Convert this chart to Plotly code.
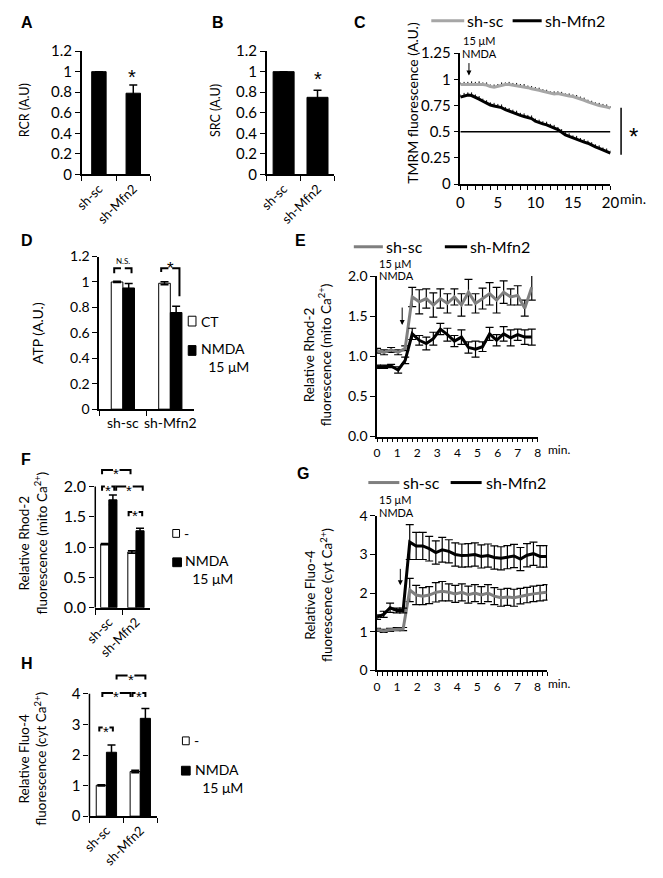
import plotly.graph_objects as go

# ================= DATA =================
groups = ["sh-sc", "sh-Mfn2"]

rcr_vals = [1.0, 0.79]
rcr_err = [0.0, 0.08]
src_vals = [1.0, 0.75]
src_err = [0.0, 0.07]

atp_ct = [1.0, 0.99]
atp_ct_err = [0.005, 0.012]
atp_nmda = [0.953, 0.76]
atp_nmda_err = [0.035, 0.05]

rhod_ctl = [1.05, 0.92]
rhod_ctl_err = [0.01, 0.02]
rhod_nmda = [1.78, 1.27]
rhod_nmda_err = [0.08, 0.04]
rhod_ticks = [0.0, 0.5, 1.0, 1.5, 2.0]

fluo_ctl = [1.01, 1.46]
fluo_ctl_err = [0.02, 0.04]
fluo_nmda = [2.09, 3.20]
fluo_nmda_err = [0.24, 0.32]
fluo_ticks = [0, 1, 2, 3, 4]

tmrm_time = [0, 0.5, 1, 1.5, 2, 2.5, 3, 3.5, 4, 4.5,
             5, 5.5, 6, 6.5, 7, 7.5, 8, 8.5, 9, 9.5,
             10, 10.5, 11, 11.5, 12, 12.5, 13, 13.5, 14, 14.5,
             15, 15.5, 16, 16.5, 17, 17.5, 18, 18.5, 19, 19.5, 20]
tmrm_sc = [0.95, 0.95, 0.955, 0.955, 0.955, 0.955, 0.95, 0.945, 0.93, 0.925,
           0.935, 0.945, 0.95, 0.95, 0.945, 0.94, 0.935, 0.93, 0.92, 0.91,
           0.905, 0.895, 0.885, 0.875, 0.865, 0.86, 0.865, 0.855, 0.845, 0.84,
           0.835, 0.825, 0.815, 0.80, 0.785, 0.77, 0.76, 0.75, 0.745, 0.735,
           0.725]
tmrm_sc_err = [0.02, 0.025, 0.02, 0.025, 0.02, 0.025, 0.02, 0.025, 0.02, 0.025,
               0.02, 0.025, 0.02, 0.025, 0.02, 0.025, 0.02, 0.025, 0.02, 0.025,
               0.02, 0.025, 0.02, 0.025, 0.02, 0.025, 0.02, 0.025, 0.02, 0.025,
               0.02, 0.025, 0.02, 0.025, 0.02, 0.025, 0.02, 0.025, 0.02, 0.025,
               0.02]
tmrm_mfn2 = [0.83, 0.84, 0.85, 0.845, 0.83, 0.81, 0.79, 0.77, 0.755, 0.745,
             0.74, 0.73, 0.71, 0.695, 0.685, 0.67, 0.655, 0.645, 0.635, 0.625,
             0.60, 0.585, 0.575, 0.565, 0.55, 0.535, 0.52, 0.495, 0.47, 0.455,
             0.44, 0.43, 0.415, 0.40, 0.39, 0.37, 0.355, 0.34, 0.325, 0.31,
             0.295]
tmrm_mfn2_err = [0.025, 0.03, 0.025, 0.03, 0.025, 0.03, 0.025, 0.03, 0.025, 0.03,
                 0.025, 0.03, 0.025, 0.03, 0.025, 0.03, 0.025, 0.03, 0.025, 0.03,
                 0.025, 0.03, 0.025, 0.03, 0.025, 0.03, 0.025, 0.03, 0.025, 0.03,
                 0.025, 0.03, 0.025, 0.03, 0.025, 0.03, 0.025, 0.03, 0.025, 0.03,
                 0.025]

rhod_time = [0.0, 0.35, 0.7, 1.05, 1.4, 1.75, 2.1, 2.45, 2.8, 3.15,
             3.5, 3.85, 4.2, 4.55, 4.9, 5.25, 5.6, 5.95, 6.3, 6.65,
             7.0, 7.35, 7.7]
rhod_sc = [1.07, 1.05, 1.08, 1.05, 1.10, 1.74, 1.68, 1.72, 1.64, 1.72,
           1.66, 1.74, 1.64, 1.80, 1.66, 1.72, 1.78, 1.70, 1.80, 1.74,
           1.76, 1.60, 1.86]
rhod_sc_err = [0.03, 0.03, 0.03, 0.03, 0.03, 0.12, 0.15, 0.12, 0.15, 0.12,
               0.12, 0.10, 0.14, 0.16, 0.12, 0.13, 0.14, 0.16, 0.14, 0.10,
               0.12, 0.10, 0.16]
rhod_mfn2 = [0.87, 0.87, 0.88, 0.83, 0.95, 1.28, 1.20, 1.16, 1.22, 1.34,
             1.27, 1.19, 1.24, 1.11, 1.09, 1.12, 1.28, 1.20, 1.28, 1.23,
             1.27, 1.24, 1.24]
rhod_mfn2_err = [0.02, 0.02, 0.02, 0.04, 0.04, 0.07, 0.06, 0.08, 0.08, 0.07,
                 0.08, 0.07, 0.09, 0.07, 0.10, 0.06, 0.08, 0.07, 0.09, 0.10,
                 0.07, 0.09, 0.10]

fluo_time = [0.0, 0.33, 0.65, 0.98, 1.3, 1.63, 1.95, 2.28, 2.6, 2.93,
             3.25, 3.58, 3.9, 4.23, 4.55, 4.88, 5.2, 5.53, 5.85, 6.18,
             6.5, 6.83, 7.15, 7.48, 7.8, 8.13, 8.45]
fluo_mfn2 = [1.38, 1.45, 1.62, 1.55, 1.55, 3.32, 3.22, 3.22, 3.15, 3.05,
             3.12, 3.08, 3.00, 2.97, 2.98, 3.00, 2.95, 2.97, 2.92, 2.90,
             2.93, 2.96, 2.88, 2.98, 3.02, 2.95, 2.95]
fluo_mfn2_err = [0.06, 0.08, 0.12, 0.06, 0.06, 0.45, 0.35, 0.35, 0.32, 0.30,
                 0.32, 0.30, 0.30, 0.30, 0.30, 0.30, 0.30, 0.30, 0.30, 0.30,
                 0.30, 0.30, 0.30, 0.30, 0.30, 0.28, 0.28]
fluo_sc = [1.05, 1.02, 1.05, 1.07, 1.07, 2.08, 1.95, 1.92, 1.95, 2.02,
           2.05, 2.02, 1.98, 2.02, 1.96, 2.00, 1.95, 2.00, 1.92, 1.88,
           1.90, 1.88, 1.92, 1.95, 1.98, 2.00, 2.02]
fluo_sc_err = [0.04, 0.04, 0.04, 0.04, 0.04, 0.30, 0.25, 0.22, 0.22, 0.25,
               0.25, 0.22, 0.22, 0.22, 0.22, 0.22, 0.22, 0.22, 0.22, 0.22,
               0.22, 0.22, 0.20, 0.20, 0.20, 0.20, 0.20]

# ================= STYLE / LAYOUT HELPERS =================
W, H = 663, 878
FONT = "Lato"
STAR_FONT = "Liberation Sans"
GREY_C = "#a6a6a6"
GREY = "#7f7f7f"


def px(x):
    return x / W


def py(y):
    return 1 - y / H


fig = go.Figure()


def ebar(arr, width=4, thick=1.5, color="black", **kw):
    return dict(type="data", array=arr, color=color, thickness=thick, width=width, **kw)


def bar(xa, ya, vals, err, fill, width, offset=None):
    fig.add_trace(go.Bar(
        x=groups, y=vals, xaxis=xa, yaxis=ya, width=width, offset=offset,
        marker=dict(color=fill, line=dict(color="black", width=1)),
        error_y=ebar(err)))


def line(xa, ya, t, v, e, color, width=3, cap=4, thick=1.2, minus=True):
    eb = ebar(e, width=cap, thick=thick)
    if not minus:
        eb["symmetric"] = False
        eb["arrayminus"] = [0] * len(e)
    fig.add_trace(go.Scatter(x=t, y=v, xaxis=xa, yaxis=ya, mode="lines",
                             line=dict(color=color, width=width),
                             error_y=eb, cliponaxis=False))


# A, B
bar("x", "y", rcr_vals, rcr_err, "black", 0.42)
bar("x2", "y2", src_vals, src_err, "black", 0.62)
# C
line("x3", "y3", tmrm_time, tmrm_sc, tmrm_sc_err, GREY_C, cap=0, thick=1, minus=False)
line("x3", "y3", tmrm_time, tmrm_mfn2, tmrm_mfn2_err, "black", cap=0, thick=1, minus=False)
# D
WD = 0.245
bar("x4", "y4", atp_ct, atp_ct_err, "white", WD, -WD)
bar("x4", "y4", atp_nmda, atp_nmda_err, "black", WD, 0)
# E
line("x5", "y5", rhod_time, rhod_sc, rhod_sc_err, GREY)
line("x5", "y5", rhod_time, rhod_mfn2, rhod_mfn2_err, "black")
# F
WF = 0.3
bar("x6", "y6", rhod_ctl, rhod_ctl_err, "white", WF, -WF)
bar("x6", "y6", rhod_nmda, rhod_nmda_err, "black", WF, 0)
# G
line("x7", "y7", fluo_time, fluo_sc, fluo_sc_err, GREY)
line("x7", "y7", fluo_time, fluo_mfn2, fluo_mfn2_err, "black")
# H
WH = 0.3
bar("x8", "y8", fluo_ctl, fluo_ctl_err, "white", WH, -WH)
bar("x8", "y8", fluo_nmda, fluo_nmda_err, "black", WH, 0)

AX = dict(showgrid=False, zeroline=False, showline=True, linecolor="black",
          linewidth=1.5, ticks="outside", ticklen=5, tickwidth=1,
          tickcolor="black", fixedrange=True)


def xcat(anchor, x0, x1, angle, size):
    return dict(AX, domain=[px(x0), px(x1)], anchor=anchor, type="category",
                range=[-0.5, 1.5], tickson="boundaries", tickangle=angle,
                tickfont=dict(size=size))


def xlin(anchor, x0, x1, rng, dtick, mdtick, size, ticklen=4):
    return dict(AX, domain=[px(x0), px(x1)], anchor=anchor, range=rng,
                tickmode="linear", tick0=0, dtick=dtick, ticklen=ticklen,
                minor=dict(ticks="outside", dtick=mdtick, ticklen=ticklen,
                           tickcolor="black", tickwidth=1),
                tickfont=dict(size=size), tickangle=0)


def yax(anchor, top, bottom, rng, size, dtick=None, fmt=None, tickvals=None,
        showline=True):
    d = dict(AX, domain=[py(bottom), py(top)], anchor=anchor, range=rng,
             tickfont=dict(size=size), showline=showline)
    if tickvals is not None:
        d.update(tickmode="array", tickvals=tickvals)
    else:
        d.update(tickmode="linear", tick0=0, dtick=dtick)
    if fmt:
        d["tickformat"] = fmt
    return d


layout = dict(
    width=W, height=H, margin=dict(l=0, r=0, t=0, b=0),
    paper_bgcolor="white", plot_bgcolor="white", showlegend=False,
    hovermode=False, barmode="overlay",
    font=dict(family=FONT, color="black", size=12),
    xaxis=xcat("y", 72, 143, -45, 13),
    yaxis=yax("x", 42, 168, [0, 1.2], 15, dtick=0.2),
    xaxis2=xcat("y2", 263, 333, -45, 13),
    yaxis2=yax("x2", 42, 168, [0, 1.2], 15, dtick=0.2),
    xaxis3=xlin("y3", 463, 618, [0, 20], 5, 1, 15),
    yaxis3=yax("x3", 44, 178, [0, 1.25], 15, dtick=0.25),
    xaxis4=xcat("y4", 90, 188, 0, 14),
    yaxis4=yax("x4", 252, 408, [0, 1.2], 14, dtick=0.2),
    xaxis5=xlin("y5", 377, 543, [0, 8], 1, 0.25, 12),
    yaxis5=yax("x5", 272, 436, [0, 2.0], 14, dtick=0.5, fmt=".1f"),
    xaxis6=xcat("y6", 86, 142, -45, 13),
    yaxis6=yax("x6", 465, 611, [0, 2.355], 16, fmt=".1f", tickvals=rhod_ticks,
               showline=False),
    xaxis7=xlin("y7", 377, 553, [0, 8.5], 1, 0.25, 12),
    yaxis7=yax("x7", 517, 675, [0, 4], 14, dtick=1),
    xaxis8=xcat("y8", 80, 150, -45, 13),
    yaxis8=yax("x8", 674, 824, [0, 4.8], 15, tickvals=fluo_ticks,
               showline=False),
)
fig.update_layout(**layout)

shapes = []
anns = []


def text(x, y, s, size, xanchor="center", angle=0, family=FONT, align="center"):
    anns.append(dict(x=px(x), y=py(y), xref="paper", yref="paper", text=s,
                     showarrow=False, font=dict(size=size, family=family, color="black"),
                     xanchor=xanchor, yanchor="middle", textangle=angle, align=align))


# partial y axis lines (F, H)
shapes.append(dict(type="line", xref="x6 domain", yref="y6", x0=0, x1=0,
                   y0=0, y1=rhod_ticks[-1], line=dict(color="black", width=1.5)))
shapes.append(dict(type="line", xref="x8 domain", yref="y8", x0=0, x1=0,
                   y0=0, y1=fluo_ticks[-1], line=dict(color="black", width=1.5)))

# panel letters
for lab, x, y in [("A", 15, 13), ("B", 213, 13), ("C", 359, 13), ("D", 15, 236),
                  ("E", 298, 236), ("F", 14, 459), ("G", 301, 474), ("H", 15, 668)]:
    text(x, y, "<b>%s</b>" % lab, 16, family="Liberation Sans")

# y titles
text(13, 103, "RCR (A.U)", 12.5, angle=-90)
text(210, 103, "SRC (A.U)", 12.5, angle=-90)
text(414, 95, "TMRM fluorescence (A.U.)", 14, angle=-90)
text(27, 330, "ATP (A.U.)", 14, angle=-90)
text(316, 352, "Relative Rhod-2<br>fluorescence (mito Ca<sup>2+</sup>)", 13.5, angle=-90)
text(22, 545, "Relative Rhod-2<br>fluorescence (mito Ca<sup>2+</sup>)", 13.5, angle=-90)
text(317, 598, "Relative Fluo-4<br>fluorescence (cyt Ca<sup>2+</sup>)", 13.5, angle=-90)
text(22, 765, "Relative Fluo-4<br>fluorescence (cyt Ca<sup>2+</sup>)", 13.5, angle=-90)

# asterisks A, B, C
text(124, 68, "*", 20, family=STAR_FONT)
text(316, 71, "*", 20, family=STAR_FONT)
text(642, 129, "*", 24, family=STAR_FONT)

# "min." labels
text(626, 193, "min.", 14, xanchor="left")
text(551, 449, "min.", 12, xanchor="left")
text(551, 688, "min.", 12, xanchor="left")

# C extras: 0.5 line, significance line
shapes.append(dict(type="line", xref="x3", yref="y3", x0=tmrm_time[0],
                   x1=tmrm_time[-1], y0=0.5, y1=0.5,
                   line=dict(color="black", width=1.5)))
shapes.append(dict(type="line", xref="paper", yref="paper", x0=px(629), x1=px(629),
                   y0=py(100), y1=py(148), line=dict(color="black", width=1.5)))


# line-chart legends
def legend_line(x0, x1, y, color, label, tx):
    shapes.append(dict(type="line", xref="paper", yref="paper", x0=px(x0), x1=px(x1),
                       y0=py(y), y1=py(y), line=dict(color=color, width=3)))
    text(tx, y, label, 16, xanchor="left")


legend_line(433, 467, 11, GREY_C, "sh-sc", 468)
legend_line(517, 547, 11, "black", "sh-Mfn2", 548)
legend_line(353, 383, 242, GREY, "sh-sc", 384)
legend_line(447, 470, 242, "black", "sh-Mfn2", 471)
legend_line(368, 400, 483, GREY, "sh-sc", 402)
legend_line(453, 485, 483, "black", "sh-Mfn2", 487)


# bar legends
def legend_box(x0, x1, y0, y1, fill):
    shapes.append(dict(type="rect", xref="paper", yref="paper", x0=px(x0), x1=px(x1),
                       y0=py(y1), y1=py(y0), fillcolor=fill,
                       line=dict(color="black", width=1)))


legend_box(182, 190, 313, 323, "white")
text(193, 318, "CT", 14, xanchor="left")
legend_box(182, 190, 343, 353, "black")
text(193, 355, "NMDA<br>&nbsp;&nbsp;15 μM", 14, xanchor="left", align="left")

legend_box(166, 173, 531, 539, "white")
text(176, 535, "-", 14, xanchor="left")
legend_box(166, 175, 560, 569, "black")
text(177, 572, "NMDA<br>&nbsp;&nbsp;15 μM", 14, xanchor="left", align="left")

legend_box(176, 183, 743, 751, "white")
text(186, 747, "-", 14, xanchor="left")
legend_box(175, 184, 773, 782, "black")
text(187, 785, "NMDA<br>&nbsp;&nbsp;15 μM", 14, xanchor="left", align="left")

# NMDA stimulation labels + arrows
text(482, 31, "15 μM", 11)
text(483, 44, "NMDA", 11)
text(396, 259, "15 μM", 11)
text(397, 271, "NMDA", 11)
text(396, 500, "15 μM", 11)
text(397, 514, "NMDA", 11)
for xa, ya, xx, yy, ay in [("x3", "y3", 1.15, 1.035, -14),
                           ("x5", "y5", 1.25, 1.39, -19),
                           ("x7", "y7", 1.16, 2.2, -18)]:
    anns.append(dict(x=xx, y=yy, xref=xa, yref=ya, ax=0, ay=ay, text="",
                     showarrow=True, arrowhead=2, arrowsize=1, arrowwidth=1,
                     arrowcolor="black"))


# significance brackets
def ctr(i, k, w):
    return i - w / 2 if k == 0 else i + w / 2


def bracket(xr, yr, xa, xb, y, da, db, label, gap, size, dy=0.0):
    xm = (xa + xb) / 2
    path = ("M{a},{ya} L{a},{y} L{m1},{y} M{m2},{y} L{b},{y} L{b},{yb}"
            .format(a=xa, b=xb, y=y, ya=y - da, yb=y - db, m1=xm - gap, m2=xm + gap))
    shapes.append(dict(type="path", path=path, xref=xr, yref=yr,
                       line=dict(color="black", width=2)))
    if label:
        anns.append(dict(x=xm, y=y + dy, xref=xr, yref=yr, text=label, showarrow=False,
                         font=dict(size=size, color="black", family=STAR_FONT),
                         xanchor="center", yanchor="middle"))


# D
bracket("x4", "y4", ctr(0, 0, WD) - 0.06, ctr(0, 1, WD) + 0.06, 1.108, 0.04, 0.04,
        "", 0.04, 9)
anns.append(dict(x=0, y=1.165, xref="x4", yref="y4", text="N.S.", showarrow=False,
                 font=dict(size=8, family=FONT, color="black")))
bracket("x4", "y4", ctr(1, 0, WD) - 0.07, ctr(1, 1, WD) + 0.07, 1.108, 0.03, 0.22,
        "*", 0.04, 17, dy=0.0)
# F
bracket("x6", "y6", ctr(0, 0, WF) - 0.1, ctr(1, 0, WF) - 0.05, 2.27, 0.07, 0.07, "*", 0.12, 15, dy=-0.06)
bracket("x6", "y6", ctr(0, 0, WF) - 0.1, ctr(0, 1, WF) + 0.05, 2.0, 0.07, 0.07, "*", 0.12, 15, dy=-0.06)
bracket("x6", "y6", ctr(0, 1, WF) + 0.12, ctr(1, 1, WF) + 0.1, 2.0, 0.07, 0.07, "*", 0.12, 15, dy=-0.06)
bracket("x6", "y6", ctr(1, 0, WF) - 0.12, ctr(1, 1, WF) + 0.08, 1.58, 0.07, 0.07, "*", 0.12, 15, dy=-0.06)
# H
bracket("x8", "y8", ctr(0, 1, WH) + 0.15, ctr(1, 1, WH), 4.6, 0.13, 0.13, "*", 0.1, 15, dy=-0.12)
bracket("x8", "y8", ctr(0, 0, WH) + 0.03, ctr(1, 0, WH) - 0.14, 4.03, 0.13, 0.13, "*", 0.1, 15, dy=-0.12)
bracket("x8", "y8", ctr(1, 0, WH) - 0.08, ctr(1, 1, WH), 4.03, 0.13, 0.13, "*", 0.1, 15, dy=-0.12)
bracket("x8", "y8", ctr(0, 0, WH) - 0.06, ctr(0, 1, WH) + 0.04, 2.9, 0.13, 0.13, "*", 0.1, 15, dy=-0.12)

fig.update_layout(shapes=shapes, annotations=anns)
fig.write_html("out.html", config={"displayModeBar": False},
               post_script="document.body.style.margin='0px';")
